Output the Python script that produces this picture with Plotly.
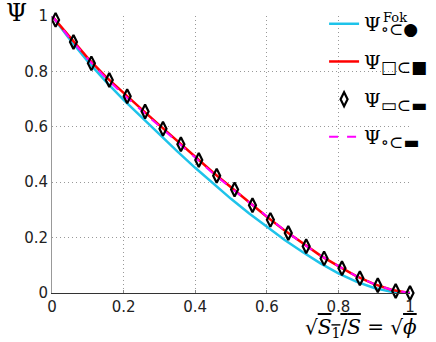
import plotly.graph_objects as go

# values
x_line = [0.0, 0.05, 0.1, 0.15, 0.2, 0.25, 0.3, 0.35, 0.4, 0.45, 0.5,
          0.55, 0.6, 0.65, 0.7, 0.75, 0.8, 0.85, 0.9, 0.95, 1.0]
psi_fok = [1.0, 0.915, 0.836, 0.764, 0.697, 0.634, 0.572, 0.511, 0.452, 0.395, 0.340,
           0.288, 0.238, 0.191, 0.148, 0.107, 0.071, 0.041, 0.018, 0.004, 0.0]
psi_square = [1.0, 0.922, 0.848, 0.781, 0.721, 0.664, 0.606, 0.549, 0.492, 0.435, 0.382,
              0.328, 0.275, 0.226, 0.179, 0.135, 0.097, 0.061, 0.032, 0.011, 0.0]
psi_circ_rect = [1.0, 0.920, 0.845, 0.777, 0.716, 0.659, 0.601, 0.545, 0.488, 0.432, 0.379,
                 0.327, 0.275, 0.226, 0.179, 0.135, 0.097, 0.061, 0.032, 0.011, 0.0]

x_pts = [0.01, 0.06, 0.11, 0.16, 0.21, 0.26, 0.31, 0.36, 0.41, 0.46, 0.51,
         0.56, 0.61, 0.66, 0.71, 0.76, 0.81, 0.86, 0.91, 0.96, 1.0]
psi_rect = [0.986, 0.906, 0.829, 0.769, 0.710, 0.655, 0.593, 0.537, 0.480, 0.423, 0.374,
            0.317, 0.264, 0.217, 0.169, 0.125, 0.089, 0.053, 0.028, 0.007, 0.0]

ticks = [0, 0.2, 0.4, 0.6, 0.8, 1]

sub = "<sub><span style='font-size:17px'>%s</span></sub>"
name_fok = "Ψ" + sub % "∘⊂●"
name_sq = "Ψ" + sub % "□⊂■"
name_rect = "Ψ" + sub % "▭⊂▬"
name_circ = "Ψ" + sub % "∘⊂▬"

fig = go.Figure()

# Fok curve
fig.add_trace(go.Scatter(x=x_line, y=psi_fok, mode='lines', name=name_fok,
                         line=dict(width=2.5, color='#1ec3ea'),
                         legendgroup='a', legendrank=1, cliponaxis=False))

# square in square
fig.add_trace(go.Scatter(x=x_line, y=psi_square, mode='lines', name=name_sq,
                         line=dict(width=2.5, color='#ff0000'),
                         legendgroup='b', legendrank=2, cliponaxis=False))

# circle in rectangle (dashed)
fig.add_trace(go.Scatter(x=x_line, y=psi_circ_rect, mode='lines', name=name_circ,
                         line=dict(width=2, color='#ff00ff', dash='dash'),
                         legendgroup='d', legendrank=4, cliponaxis=False))

# rectangle in rectangle (markers)
fig.add_trace(go.Scatter(x=x_pts, y=psi_rect, mode='markers', name=name_rect,
                         marker=dict(symbol='diamond-tall-open', size=10, color='black',
                                     line=dict(width=2.2, color='black')),
                         legendgroup='c', legendrank=3, cliponaxis=False))

axis_font = dict(family='DejaVu Sans', size=15, color='#222')

fig.update_xaxes(range=[0, 1], tickvals=ticks, showgrid=True, gridcolor='#999999',
                 griddash='1px,3px', gridwidth=1, zeroline=False, showline=True,
                 linecolor='#333', linewidth=1, ticks='inside', ticklen=3,
                 tickcolor='#888', tickfont=axis_font)
fig.update_yaxes(range=[0, 1], tickvals=ticks, showgrid=True, gridcolor='#999999',
                 griddash='1px,3px', gridwidth=1, zeroline=False, showline=True,
                 linecolor='#999', linewidth=1, ticks='', tickfont=axis_font)

# axis titles
fig.add_annotation(text="Ψ", xref='paper', yref='paper', x=-0.10, y=1.01,
                   xanchor='center', yanchor='middle', showarrow=False,
                   font=dict(family='DejaVu Serif', size=24, color='black'))
fig.add_annotation(text="√<span style='text-decoration:overline'><i>S</i><sub>1</sub>/<i>S</i></span> = √<span style='text-decoration:overline'><i>ϕ</i></span>",
                   xref='paper', yref='paper', x=1.025, y=-0.125,
                   xanchor='right', yanchor='middle', showarrow=False,
                   font=dict(family='DejaVu Serif', size=20, color='black'))

# "Fok" superscript of the first legend entry
fig.add_annotation(text="Fok", xref='paper', yref='paper', x=0.92, y=0.993,
                   xanchor='left', yanchor='middle', showarrow=False,
                   font=dict(family='DejaVu Serif', size=13, color='black'))

fig.update_layout(
    width=436, height=342,
    margin=dict(l=52, r=26, t=16, b=49, autoexpand=False),
    plot_bgcolor='white', paper_bgcolor='white',
    legend=dict(x=0.76, y=1.04, xanchor='left', yanchor='top',
                bgcolor='rgba(0,0,0,0)', traceorder='grouped', tracegroupgap=10,
                font=dict(family='DejaVu Serif', size=19, color='black')),
)

fig.write_html("out.html", config={'displayModeBar': False},
               post_script="document.body.style.margin='0';")
